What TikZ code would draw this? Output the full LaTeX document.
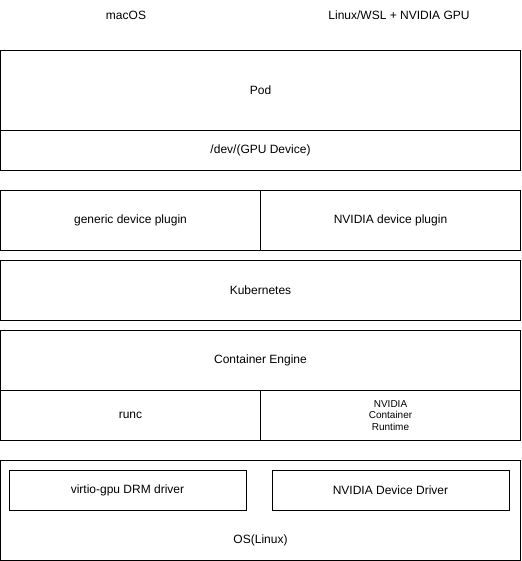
\documentclass[tikz,border=0pt]{standalone}
\usepackage{fontspec}
\setmainfont{Liberation Sans}
\begin{document}
\begin{tikzpicture}[x=1pt,y=-1pt,
  box/.style={draw=black,line width=1pt,rectangle,inner sep=0pt,outer sep=0pt,
    font=\fontsize{12}{14}\selectfont,align=center},
  lbl/.style={inner sep=0pt,font=\fontsize{12}{14}\selectfont,align=center},
  smallbox/.style={box,font=\fontsize{10}{11.5}\selectfont}]
\useasboundingbox (0,0) rectangle (521,561);
\node[lbl] (mac) at (126,15) {macOS};
\node[lbl] (lin) at (399,15) {Linux/WSL + NVIDIA GPU};
\node[box,minimum width=520pt,minimum height=80pt] (pod) at (260.5,90.5) {Pod};
\node[box,minimum width=520pt,minimum height=40pt] (dev) at (260.5,150.5) {/dev/(GPU Device)};
\node[box,minimum width=260pt,minimum height=60pt] (gdp) at (130.5,220.5) {generic device plugin};
\node[box,minimum width=260pt,minimum height=60pt] (ndp) at (390.5,220.5) {NVIDIA device plugin};
\node[box,minimum width=520pt,minimum height=60pt] (k8s) at (260.5,290.5) {Kubernetes};
\node[box,minimum width=520pt,minimum height=60pt] (ce) at (260.5,360.5) {Container Engine};
\node[box,minimum width=260pt,minimum height=50pt] (runc) at (130.5,415.5) {runc};
\node[smallbox,minimum width=260pt,minimum height=50pt] (nvcr) at (390.5,415.5) {NVIDIA\\Container\\Runtime};
\node[box,minimum width=520pt,minimum height=100pt] (os) at (260.5,510.5) {};
\node[lbl] (oslbl) at (260.5,540.5) {OS(Linux)};
\node[box,minimum width=237pt,minimum height=40pt] (virtio) at (127.5,490) {virtio-gpu DRM driver};
\node[box,minimum width=237pt,minimum height=40pt] (nvdd) at (390.5,490) {NVIDIA Device Driver};
\end{tikzpicture}
\end{document}
